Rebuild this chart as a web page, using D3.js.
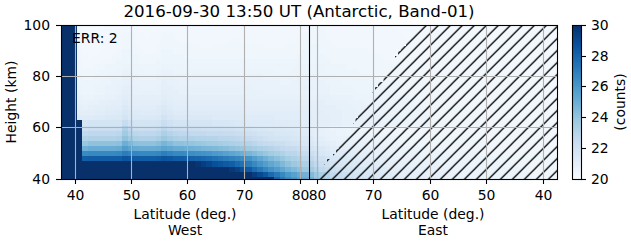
<!DOCTYPE html>
<html>
<head>
<meta charset="utf-8">
<script src="https://cdn.jsdelivr.net/npm/d3@7"></script>
<style>
html, body { margin: 0; padding: 0; background: #fff; }
text { font-family: "DejaVu Sans", sans-serif; fill: #000; }
</style>
</head>
<body>
<div id="chart"></div>
<script>
const colorTicks = [20, 22, 24, 26, 28, 30];
const heightTicks = [40, 60, 80, 100];
const latTicks = [40, 50, 60, 70, 80];

// row centres in km, top row first
const rowHeights = [99.7, 97.7, 95.7, 93.7, 91.7, 89.7, 87.7, 85.7, 83.7, 81.7, 79.7, 77.7, 75.7, 73.7, 71.7, 69.7,
    67.7, 65.7, 63.7, 61.7, 59.7, 57.7, 55.7, 53.7, 51.7, 49.7, 47.7, 45.7, 43.7, 41.7, 39.7];

// counts above 20, in tenths. one row per height, one value per 1 deg column, west (37.3) across to east
const countTenths = [
[100,100,100,2,1,1,1,1,2,2, 2,3,3,3,2,2,2,2,3,3, 3,3,3,3,3,2,2,3,3,3, 3,3,3,3,3,3,3,3,3,3, 3,3,3,3,4,4,4,3,3,3, 3,3,3,3,3,3,3,3,3,2, 2,2,2,2,2,2,2,2,2,2, 2,2,2,2,2,2,2,2,2,2, 2,2,2,2,2,2,2,2,2],
[100,100,100,2,1,1,1,2,2,2, 3,3,3,3,2,2,2,3,3,3, 3,3,3,3,3,3,3,3,3,3, 3,3,3,3,3,3,3,3,3,3, 3,3,3,3,4,4,4,3,3,3, 3,3,3,3,3,3,3,3,3,3, 2,2,2,2,2,2,2,2,2,2, 2,2,2,2,2,2,2,2,2,2, 2,2,2,2,2,2,2,2,2],
[100,100,100,2,2,1,2,2,2,2, 3,4,4,3,3,2,3,3,4,4, 3,3,3,3,3,3,3,3,3,3, 3,3,3,3,3,3,3,3,3,3, 3,3,3,4,4,4,4,3,3,3, 3,3,3,3,3,3,3,3,3,3, 3,2,2,2,2,2,2,2,2,2, 2,2,2,2,2,2,2,2,2,2, 2,2,2,2,2,2,2,2,2],
[100,100,100,2,2,2,2,2,3,3, 3,4,4,3,3,3,3,3,4,4, 4,3,3,3,3,3,3,3,3,3, 4,4,3,3,3,3,3,3,3,3, 3,3,4,4,4,4,4,4,3,3, 3,3,3,3,3,3,3,3,3,3, 3,3,3,2,2,2,2,2,2,2, 2,2,2,2,2,2,2,2,2,2, 2,2,2,2,2,2,2,2,2],
[100,100,100,3,2,2,2,2,3,3, 3,4,4,4,3,3,3,4,4,4, 4,4,4,4,4,3,3,4,4,4, 4,4,4,4,4,4,3,3,3,3, 4,4,4,4,5,5,4,4,4,3, 3,3,3,3,3,3,3,3,3,3, 3,3,3,3,3,2,2,2,2,2, 2,2,2,2,2,2,2,2,2,2, 2,2,2,2,2,2,2,2,2],
[100,100,100,3,2,2,2,3,3,3, 4,5,5,4,4,3,3,4,5,5, 4,4,4,4,4,4,4,4,4,4, 4,4,4,4,4,4,4,4,4,4, 4,4,4,5,5,5,4,4,4,4, 4,4,4,4,4,4,3,3,3,3, 3,3,3,3,3,3,3,3,2,2, 2,2,2,2,2,2,2,2,2,2, 2,2,2,2,2,2,2,2,2],
[100,100,100,3,3,2,3,3,3,4, 4,5,5,5,4,4,4,4,5,5, 5,5,4,4,4,4,4,4,4,4, 4,4,4,4,4,4,4,4,4,4, 4,4,5,5,5,5,5,4,4,4, 4,4,4,4,4,4,4,3,3,3, 3,3,3,3,3,3,3,3,3,3, 3,2,2,2,2,2,2,2,2,2, 2,2,2,2,2,2,2,2,2],
[100,100,100,4,3,3,3,4,4,4, 5,5,5,5,4,4,4,5,5,5, 5,5,5,5,5,5,5,5,5,5, 5,5,5,5,5,5,5,5,5,5, 5,5,5,5,5,5,5,5,4,4, 4,4,4,4,4,4,4,4,4,3, 3,3,3,3,3,3,3,3,3,3, 3,3,3,2,2,2,2,2,2,2, 2,2,2,2,2,2,2,2,2],
[100,100,100,4,3,3,4,4,5,5, 5,6,6,6,5,5,5,5,6,6, 6,6,5,5,5,5,5,5,5,5, 5,5,5,5,5,5,5,5,5,5, 5,5,6,6,6,6,6,5,5,5, 5,4,4,4,4,4,4,4,4,4, 4,3,3,3,3,3,3,3,3,3, 3,3,3,3,3,2,2,2,2,2, 2,2,2,2,2,2,2,2,2],
[100,100,100,4,4,4,4,5,5,5, 6,7,7,6,6,5,5,6,7,7, 6,6,6,6,6,6,6,6,6,6, 6,6,6,6,6,6,6,6,5,5, 5,6,6,6,6,6,6,5,5,5, 5,5,5,4,4,4,4,4,4,4, 4,4,4,3,3,3,3,3,3,3, 3,3,3,3,3,3,3,2,2,2, 2,2,2,2,2,2,2,2,2],
[100,100,100,5,4,4,5,5,6,6, 6,8,8,7,6,6,6,7,8,8, 7,7,7,7,7,7,7,7,7,7, 7,7,7,7,7,7,6,6,6,6, 6,6,7,7,7,7,6,6,6,5, 5,5,5,5,5,5,4,4,4,4, 4,4,4,4,3,3,3,3,3,3, 3,3,3,3,3,3,3,3,3,2, 2,2,2,2,2,2,2,2,2],
[100,100,100,5,5,5,5,6,6,7, 7,8,8,7,7,7,7,7,9,8, 8,7,7,7,7,7,7,7,7,7, 7,7,7,7,7,7,7,7,7,6, 6,7,7,7,7,7,7,6,6,6, 5,5,5,5,5,5,5,4,4,4, 4,4,4,4,4,4,3,3,3,3, 3,3,3,3,3,3,3,3,3,3, 3,2,2,2,2,2,2,2,2],
[100,100,100,6,5,5,6,6,7,7, 8,9,9,8,7,7,7,8,9,9, 8,8,8,8,8,8,8,8,8,8, 8,8,8,8,7,7,7,7,7,7, 7,7,7,8,8,7,7,7,6,6, 6,6,5,5,5,5,5,5,4,4, 4,4,4,4,4,4,4,3,3,3, 3,3,3,3,3,3,3,3,3,3, 3,3,3,2,2,2,2,2,2],
[100,100,100,6,5,5,6,6,7,7, 8,10,9,8,8,8,8,8,10,9, 9,8,8,8,8,8,8,8,8,8, 8,8,8,8,8,8,7,7,7,7, 7,7,7,7,7,7,7,7,6,6, 6,6,6,5,5,5,5,5,5,5, 4,4,4,4,4,4,4,4,3,3, 3,3,3,3,3,3,3,3,3,3, 3,3,3,3,3,3,2,2,2],
[100,100,100,7,6,6,7,7,8,8, 9,11,10,9,9,9,9,9,11,10, 9,9,9,9,9,9,9,9,9,9, 9,9,9,8,8,8,8,8,8,8, 8,8,8,8,8,8,8,8,7,7, 7,7,6,6,6,6,5,5,5,5, 5,5,4,4,4,4,4,4,4,3, 3,3,3,3,3,3,3,3,3,3, 3,3,3,3,3,3,3,3,3],
[100,100,100,8,7,8,8,9,9,10, 10,12,11,10,10,10,10,10,12,11, 10,10,10,10,10,10,10,10,10,10, 10,10,10,9,9,9,9,9,9,9, 9,9,9,9,9,9,9,8,8,8, 8,7,7,7,6,6,6,6,5,5, 5,5,5,4,4,4,4,4,4,4, 4,3,3,3,3,3,3,3,3,3, 3,3,3,3,3,3,3,3,3],
[100,100,100,9,8,9,10,10,11,11, 11,14,12,11,11,11,11,12,14,12, 11,11,11,11,11,11,11,11,11,11, 11,11,11,10,10,10,10,10,10,10, 10,10,10,10,10,10,9,9,9,8, 8,8,7,7,7,6,6,6,6,5, 5,5,5,5,4,4,4,4,4,4, 4,4,3,3,3,3,3,3,3,3, 3,3,3,3,3,3,3,3,3],
[100,100,100,10,10,10,11,11,12,12, 13,16,14,13,12,12,12,13,16,14, 12,12,12,12,12,12,12,12,12,12, 12,12,12,11,11,11,11,11,11,11, 11,11,11,11,10,10,10,9,9,9, 8,8,8,7,7,7,6,6,6,6, 5,5,5,5,5,4,4,4,4,4, 4,4,4,4,3,3,3,3,3,3, 3,3,3,3,3,3,3,3,3],
[100,100,100,12,12,12,13,13,14,14, 14,18,15,14,14,14,14,15,19,16, 14,14,14,14,14,14,14,13,13,13, 13,13,13,12,12,12,12,12,11,11, 11,11,11,11,11,10,10,10,9,9, 8,8,8,8,7,7,7,6,6,6, 6,5,5,5,5,5,4,4,4,4, 4,4,4,4,4,3,3,3,3,3, 3,3,3,3,3,3,3,3,3],
[100,100,100,100,17,18,18,18,18,18, 18,24,20,18,18,18,18,19,23,20, 18,18,18,17,17,17,17,16,16,16, 15,14,14,13,13,13,13,13,12,12, 12,12,12,11,11,11,10,10,9,9, 8,8,8,8,7,7,7,6,6,6, 5,5,5,5,5,5,4,4,4,4, 4,4,4,4,4,4,3,3,3,3, 3,3,3,3,3,3,3,3,3],
[100,100,100,100,21,22,22,22,22,22, 23,33,27,23,22,22,22,24,28,25, 23,23,22,22,22,21,21,21,21,20, 20,19,18,17,16,15,15,14,14,14, 13,13,12,11,10,9,8,7,6,6, 5,5,5,4,4,4,4,4,4,3, 3,3,3,3,3,3,3,3,3,3, 3,3,3,3,3,3,3,3,3,3, 3,3,3,2,2,2,2,2,2],
[100,100,100,100,26,27,27,27,27,27, 28,37,31,28,27,27,27,29,33,30, 28,27,27,26,26,26,25,25,25,24, 24,23,22,21,20,18,17,17,16,15, 15,14,13,12,11,9,8,7,7,6, 6,5,5,5,5,4,4,4,4,4, 3,3,3,3,3,3,3,3,3,3, 3,3,3,3,3,3,3,3,3,3, 3,3,3,3,3,3,3,3,3],
[100,100,100,100,31,32,32,32,32,32, 33,41,37,33,32,32,32,34,38,35, 33,32,32,32,31,31,30,30,29,29, 28,27,26,25,23,22,20,19,18,17, 17,16,15,14,13,10,9,8,7,7, 7,7,6,6,6,5,5,5,5,5, 4,4,4,4,4,4,4,4,4,4, 4,4,4,4,3,3,3,3,3,3, 3,3,3,3,3,3,3,3,3],
[100,100,100,100,39,41,41,41,41,41, 42,50,46,42,41,41,41,43,47,44, 41,41,40,40,39,38,37,36,35,34, 33,32,31,30,28,26,25,24,23,22, 20,19,18,16,15,12,11,10,9,8, 8,8,7,7,7,6,6,6,5,5, 4,4,4,4,4,4,4,4,4,4, 4,4,4,4,4,4,3,3,3,3, 3,3,3,3,3,3,3,3,3],
[100,100,100,100,49,51,51,51,51,51, 52,58,55,52,51,51,51,52,55,53, 51,51,50,49,48,47,46,45,44,43, 41,40,39,37,35,33,32,30,28,26, 25,24,22,20,18,16,14,12,11,11, 10,9,9,8,8,7,7,7,6,6, 6,5,5,5,5,5,5,4,4,4, 4,4,4,4,4,4,3,3,3,3, 3,3,3,3,3,3,3,3,3],
[100,100,100,100,65,66,66,66,66,66, 67,71,69,67,66,66,66,67,70,68, 66,66,65,64,63,62,61,59,58,56, 54,52,50,47,44,41,39,36,34,32, 29,28,26,24,22,19,16,14,13,12, 12,11,10,9,9,8,8,8,7,7, 6,6,6,6,5,5,5,5,5,5, 5,5,5,5,4,4,4,4,4,4, 4,4,4,4,4,4,3,3,3],
[100,100,100,100,82,83,83,83,83,83, 83,86,85,83,83,83,83,84,86,85, 83,83,82,81,80,79,77,75,73,71, 69,67,65,62,57,53,49,45,42,39, 35,33,31,28,26,22,20,18,16,15, 14,13,12,11,10,10,9,9,8,8, 7,7,7,6,6,6,6,6,6,5, 5,5,5,5,5,5,5,4,4,4, 4,4,4,4,4,4,4,4,4],
[100,100,100,100,100,100,100,100,100,100, 100,100,100,100,100,100,100,100,100,100, 100,100,100,100,98,95,92,88,86,84, 82,78,75,71,66,61,57,53,50,45, 41,38,36,33,31,26,23,21,19,17, 16,15,14,12,12,11,11,10,9,9, 8,8,8,7,7,7,7,6,6,6, 6,6,5,5,5,5,5,5,4,4, 4,4,4,4,4,4,4,4,4],
[100,100,100,100,100,100,100,100,100,100, 100,100,100,100,100,100,100,100,100,100, 100,100,100,100,100,100,100,100,100,100, 97,93,89,84,77,72,67,62,58,53, 48,45,42,38,36,31,27,24,22,20, 19,17,16,15,14,13,13,12,11,10, 9,9,9,8,8,8,7,7,7,7, 6,6,6,6,6,6,5,5,5,5, 5,5,4,4,4,4,4,4,4],
[100,100,100,100,100,100,100,100,100,100, 100,100,100,100,100,100,100,100,100,100, 100,100,100,100,100,100,100,100,100,100, 100,100,100,100,95,90,85,78,72,66, 60,56,52,48,44,38,34,30,26,24, 22,20,18,17,16,15,14,13,12,11, 10,10,9,9,9,8,8,8,7,7, 7,6,6,6,6,6,6,6,5,5, 5,5,5,5,4,4,4,4,4],
[100,100,100,100,100,100,100,100,100,100, 100,100,100,100,100,100,100,100,100,100, 100,100,100,100,100,100,100,100,100,100, 100,100,100,100,100,100,100,100,80,72, 65,60,56,51,48,40,36,32,28,25, 24,21,19,18,17,16,15,14,13,12, 11,11,10,10,9,9,9,8,8,8, 7,7,7,7,6,6,6,6,5,5, 5,5,5,5,5,4,4,4,4]
];

// east latitude where the hatched side begins, one per rowHeights entry
const hatchEdgeLat = [62.7, 62.7, 63.7, 63.7, 64.7, 65.7, 65.7, 66.7, 66.7, 67.7, 67.7, 68.7, 69.7, 69.7, 70.7, 70.7,
    71.7, 72.7, 72.7, 73.7, 73.7, 74.7, 75.7, 75.7, 76.7, 76.7, 77.7, 78.7, 78.7, 79.7, 79.7];

const firstColumnLat = 37.3;
const width = 631, height = 243;
const plot = { left: 61, right: 557, top: 25, bottom: 179 };
const bar = { left: 572, right: 581 };

const svg = d3.select('#chart').append('svg')
    .attr('width', width)
    .attr('height', height)
    .style('display', 'block');

// the two halves meet at the centre line, cells run across both on pos
const pos = d3.scaleLinear().domain([37.5, 125.5]).rangeRound([plot.left, plot.right]);
const west = d3.scaleLinear().domain([37.53, 81.62]).rangeRound([plot.left, 309]);
const east = d3.scaleLinear().domain([81.4, 37.51]).rangeRound([309, plot.right]);
const y = d3.scaleLinear().domain([40, 100]).rangeRound([178.6, plot.top]);

const blues = d3.piecewise(d3.interpolateRgb, d3.schemeBlues[9]);
const color = d3.scaleSequential(blues).domain([20, 30]).clamp(true);

const defs = svg.append('defs');
defs.append('clipPath').attr('id', 'plot-clip').append('rect')
    .attr('x', plot.left).attr('y', plot.top)
    .attr('width', plot.right - plot.left).attr('height', plot.bottom - plot.top);

const hatch = defs.append('pattern')
    .attr('id', 'hatch')
    .attr('patternUnits', 'userSpaceOnUse')
    .attr('width', 12).attr('height', 12)
    .attr('patternTransform', 'translate(7.7,0)');
hatch.append('path')
    .attr('d', 'M-3,3L3,-3M0,12L12,0M9,15L15,9')
    .attr('stroke', '#000')
    .attr('stroke-width', 1.3);

const g = svg.append('g').attr('clip-path', 'url(#plot-clip)');

// cells
const cells = [];
countTenths.forEach((row, r) => {
    row.forEach((v, k) => cells.push({ r, k, v: 20 + v / 10 }));
});

g.selectAll('.cell')
    .data(cells)
    .enter().append('rect')
    .attr('class', 'cell')
    .attr('shape-rendering', 'crispEdges')
    .attr('x', d => pos(firstColumnLat + d.k))
    .attr('y', d => y(rowHeights[d.r] + 1))
    .attr('width', d => pos(firstColumnLat + d.k + 1) - pos(firstColumnLat + d.k))
    .attr('height', d => y(rowHeights[d.r] - 1) - y(rowHeights[d.r] + 1))
    .attr('fill', d => color(d.v));

// hatched part on the east side
const hatchArea = d3.area()
    .curve(d3.curveStep)
    .y((d, i) => y(rowHeights[i]))
    .x0(d => east(d))
    .x1(plot.right);

g.append('path')
    .datum(hatchEdgeLat)
    .attr('d', hatchArea)
    .attr('fill', 'url(#hatch)');

// grid
const grid = svg.append('g')
    .attr('stroke', '#b0b0b0')
    .attr('stroke-width', 1.1);

latTicks.forEach(t => {
    [west(t), east(t)].forEach(x => {
        grid.append('line').attr('x1', x + 0.5).attr('x2', x + 0.5).attr('y1', plot.top).attr('y2', plot.bottom);
    });
});
heightTicks.forEach(t => {
    grid.append('line').attr('x1', plot.left).attr('x2', plot.right).attr('y1', y(t) + 0.5).attr('y2', y(t) + 0.5);
});

// centre line
svg.append('line')
    .attr('x1', 309.5).attr('x2', 309.5)
    .attr('y1', plot.top).attr('y2', plot.bottom)
    .attr('stroke', '#000')
    .attr('stroke-width', 1.1);

svg.append('rect')
    .attr('x', plot.left + 0.5).attr('y', plot.top + 0.5)
    .attr('width', plot.right - plot.left).attr('height', plot.bottom - plot.top)
    .attr('fill', 'none')
    .attr('stroke', '#000')
    .attr('stroke-width', 1.1);

function styleAxis(sel) {
    sel.select('.domain').remove();
    sel.selectAll('line').attr('stroke-width', 1.1);
    sel.selectAll('text').style('font-family', '"DejaVu Sans", sans-serif').style('font-size', '13.9px');
}

// axes
svg.append('g')
    .attr('transform', `translate(0,${plot.bottom})`)
    .call(d3.axisBottom(west).tickValues(latTicks).tickSize(5).tickPadding(6))
    .call(styleAxis);

svg.append('g')
    .attr('transform', `translate(0,${plot.bottom})`)
    .call(d3.axisBottom(east).tickValues(latTicks).tickSize(5).tickPadding(6))
    .call(styleAxis);

svg.append('g')
    .attr('transform', `translate(${plot.left},0)`)
    .call(d3.axisLeft(y).tickValues(heightTicks).tickSize(5).tickPadding(6))
    .call(styleAxis);

// colour bar
const barY = d3.scaleLinear().domain([20, 30]).rangeRound([178.6, plot.top]);
const barSteps = d3.range(0, 154);
svg.append('g').selectAll('rect')
    .data(barSteps)
    .enter().append('rect')
    .attr('shape-rendering', 'crispEdges')
    .attr('x', bar.left)
    .attr('y', d => plot.top + d)
    .attr('width', bar.right - bar.left)
    .attr('height', 1)
    .attr('fill', d => color(20 + 10 * (153 - d) / 153));

svg.append('rect')
    .attr('x', bar.left + 0.5).attr('y', plot.top + 0.5)
    .attr('width', bar.right - bar.left).attr('height', plot.bottom - plot.top)
    .attr('fill', 'none')
    .attr('stroke', '#000')
    .attr('stroke-width', 1.1);

svg.append('g')
    .attr('transform', `translate(${bar.right},0)`)
    .call(d3.axisRight(barY).tickValues(colorTicks).tickSize(5).tickPadding(5))
    .call(styleAxis);

// texts
function label(x, yPos, text, size, rotate) {
    const t = svg.append('text')
        .attr('text-anchor', 'middle')
        .style('font-size', size + 'px')
        .text(text);
    if (rotate) t.attr('transform', `translate(${x},${yPos}) rotate(-90)`);
    else t.attr('x', x).attr('y', yPos);
}

label(299, 17, '2016-09-30 13:50 UT (Antarctic, Band-01)', 16.67);
label(16, 102, 'Height (km)', 13.9, true);
label(185, 219, 'Latitude (deg.)', 13.9);
label(185, 235, 'West', 13.9);
label(433, 219, 'Latitude (deg.)', 13.9);
label(433, 235, 'East', 13.9);
label(625, 102, '(counts)', 13.9, true);

svg.append('text')
    .attr('x', 72)
    .attr('y', 43)
    .style('font-size', '13.9px')
    .text('ERR: 2');
</script>
</body>
</html>
